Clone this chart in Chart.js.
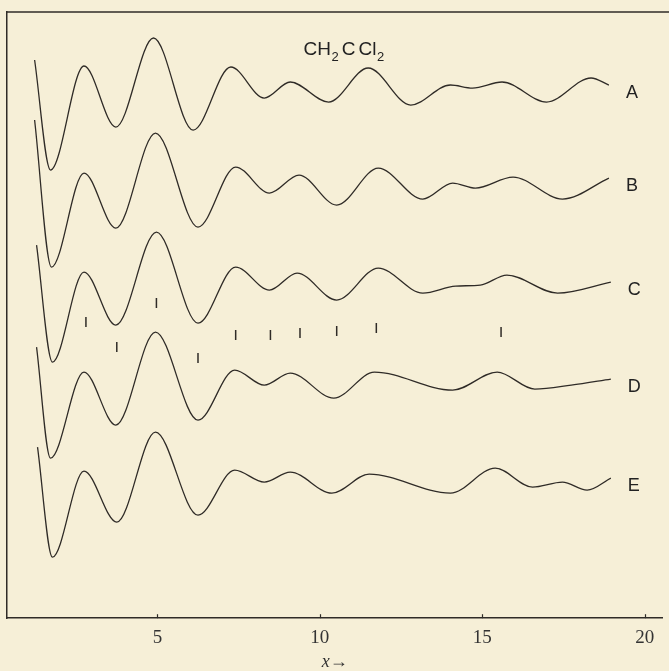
<!DOCTYPE html>
<html>
<head>
<meta charset="utf-8">
<title>CH2CCl2</title>
<script src="https://cdn.jsdelivr.net/npm/chart.js@4.4.1/dist/chart.umd.min.js"></script>
<style>
  html, body { margin: 0; padding: 0; background: #f6efd7; }
  #grafico { display: block; }
</style>
</head>
<body>
<canvas id="grafico" width="669" height="671"></canvas>
<script>
const xA = [1.22, 1.71, 2.74, 3.72, 4.88, 6.10, 7.26, 8.29, 9.09, 10.27, 11.49, 12.80, 14.02, 14.70, 15.61, 16.98, 18.35, 18.90];
const yA = [558, 448, 552, 491, 580, 488, 551, 520, 536, 516, 550, 513, 533, 530, 536, 516, 540, 533];

const xB = [1.22, 1.74, 2.74, 3.72, 4.94, 6.25, 7.41, 8.45, 9.36, 10.52, 11.80, 13.17, 14.09, 14.79, 15.95, 17.47, 18.90];
const yB = [498, 351, 445, 390, 485, 391, 451, 425, 443, 413, 450, 419, 435, 430, 441, 419, 440];

const xC = [1.28, 1.77, 2.74, 3.72, 4.97, 6.25, 7.41, 8.45, 9.30, 10.52, 11.80, 13.17, 14.18, 14.94, 15.76, 17.32, 18.96];
const yC = [373, 256, 346, 293, 386, 295, 351, 328, 345, 318, 350, 325, 332, 333, 343, 325, 336];

const xD = [1.28, 1.71, 2.74, 3.72, 4.94, 6.25, 7.38, 8.29, 9.09, 10.43, 11.68, 14.09, 15.46, 16.62, 17.74, 18.96];
const yD = [271, 160, 246, 193, 286, 198, 248, 233, 245, 220, 246, 228, 246, 229, 233, 239];

const xE = [1.31, 1.77, 2.74, 3.75, 4.94, 6.25, 7.38, 8.29, 9.09, 10.37, 11.52, 14.02, 15.40, 16.55, 17.47, 18.23, 18.96];
const yE = [171, 61, 147, 96, 186, 103, 148, 136, 146, 125, 144, 125, 150, 131, 136, 128, 140];

// marcas verticales (valores observados)
const marcasX = [2.80, 3.75, 4.97, 6.25, 7.41, 8.48, 9.39, 10.52, 11.74, 15.58];
const marcasY = [296, 271, 315, 260, 283, 283, 285, 287, 290, 286];

const etiquetas = ['A', 'B', 'C', 'D', 'E'];
const ticksX = [5, 10, 15, 20];

const TINTA = '#2f2b27';

function puntos(xs, ys) {
    return xs.map(function (x, i) { return { x: x, y: ys[i] }; });
}

const curvas = [[xA, yA], [xB, yB], [xC, yC], [xD, yD], [xE, yE]];

const datasets = curvas.map(function (c, i) {
    return {
        label: etiquetas[i],
        data: puntos(c[0], c[1]),
        borderColor: TINTA,
        borderWidth: 1.3,
        pointRadius: 0,
        cubicInterpolationMode: 'monotone',
        fill: false
    };
});

datasets.push({
    type: 'scatter',
    label: 'marcas',
    data: puntos(marcasX, marcasY),
    showLine: false,
    pointStyle: 'line',
    pointRotation: 90,
    pointRadius: 5,
    borderColor: TINTA,
    borderWidth: 1.5
});

// marco, marcas del eje, letras de las curvas y la formula
const decoraciones = {
    id: 'decoraciones',
    afterDraw: function (chart) {
        const ctx = chart.ctx;
        const area = chart.chartArea;
        const sx = chart.scales.x;
        const sy = chart.scales.y;

        ctx.save();
        ctx.strokeStyle = TINTA;
        ctx.lineWidth = 1.5;
        ctx.beginPath();
        ctx.moveTo(area.left, area.top);
        ctx.lineTo(chart.width, area.top);
        ctx.stroke();

        // marcas cortas hacia arriba en el eje x
        ctx.lineWidth = 1.2;
        ticksX.forEach(function (v) {
            const px = Math.round(sx.getPixelForValue(v)) + 0.5;
            ctx.beginPath();
            ctx.moveTo(px, area.bottom);
            ctx.lineTo(px, area.bottom - 4);
            ctx.stroke();
        });

        // letras A-E al final de cada curva
        ctx.fillStyle = '#222';
        ctx.font = '18px "Liberation Sans", Arial, sans-serif';
        ctx.textBaseline = 'middle';
        ctx.textAlign = 'left';
        for (let i = 0; i < 5; i++) {
            const meta = chart.getDatasetMeta(i);
            const ultimo = meta.data[meta.data.length - 1];
            ctx.fillText(etiquetas[i], ultimo.x + 17, ultimo.y + 8);
        }

        // CH2CCl2
        let x = sx.getPixelForValue(9.5);
        const base = sy.getPixelForValue(563);
        const partes = [['CH', false], ['2', true], ['C', false], ['Cl', false], ['2', true]];
        ctx.textBaseline = 'alphabetic';
        partes.forEach(function (p, k) {
            ctx.font = p[1] ? '13px "Liberation Sans", Arial, sans-serif' : '19px "Liberation Sans", Arial, sans-serif';
            ctx.fillText(p[0], x, p[1] ? base + 6 : base);
            x += ctx.measureText(p[0]).width + (k === 1 || k === 2 ? 3 : 0.5);
        });
        ctx.restore();
    }
};

new Chart(document.getElementById('grafico'), {
    type: 'line',
    data: { datasets: datasets },
    plugins: [decoraciones],
    options: {
        responsive: false,
        animation: false,
        events: [],
        layout: { padding: { left: 7, top: 12, right: 0, bottom: 0 } },
        plugins: {
            legend: { display: false },
            tooltip: { enabled: false }
        },
        scales: {
            x: {
                type: 'linear',
                min: 0.37,
                max: 20.55,
                afterBuildTicks: function (axis) {
                    axis.ticks = ticksX.map(function (v) { return { value: v }; });
                },
                grid: { display: false, drawTicks: false },
                border: { display: true, color: TINTA, width: 1.5 },
                ticks: {
                    padding: 8,
                    maxRotation: 0,
                    color: '#333',
                    font: { family: '"Liberation Serif", "DejaVu Serif", serif', size: 19 }
                },
                title: {
                    display: true,
                    text: 'x\u2192',
                    color: '#333',
                    padding: { top: -4, bottom: 0 },
                    font: { family: '"Liberation Serif", serif', size: 18, style: 'italic', lineHeight: 1 }
                }
            },
            y: {
                min: 0,
                max: 606,
                grid: { display: false, drawTicks: false },
                border: { display: true, color: TINTA, width: 1.5 },
                ticks: { display: false }
            }
        }
    }
});
</script>
</body>
</html>
